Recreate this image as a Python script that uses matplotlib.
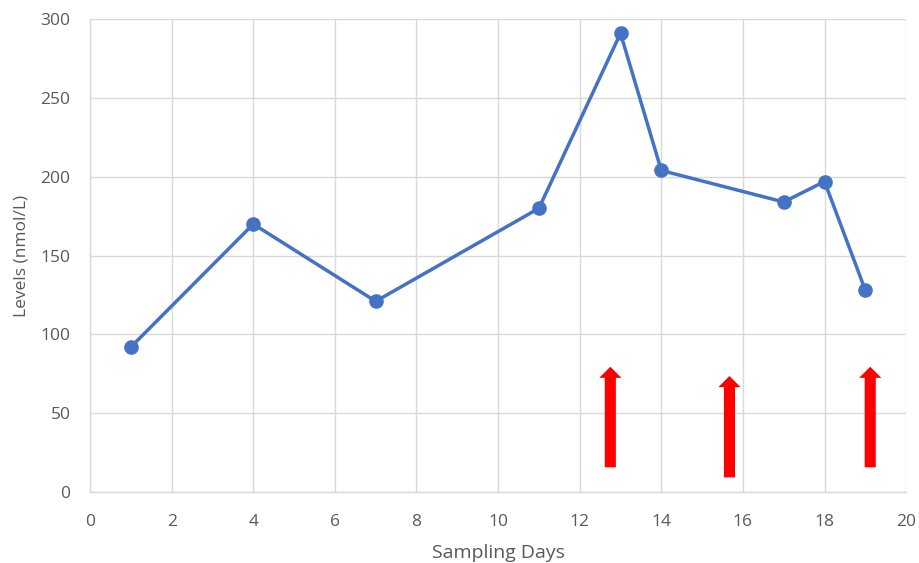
import matplotlib
matplotlib.use("Agg")
import matplotlib.pyplot as plt
from matplotlib.patches import FancyArrowPatch

days = [1, 4, 7, 11, 13, 14, 17, 18, 19]
levels = [92, 170, 121, 180, 291, 204, 184, 197, 128]

arrow_x = [12.75, 15.67, 19.12]
arrow_base = [15.7, 9.3, 15.7]
arrow_tip = [79.5, 73.6, 79.5]

xticks = list(range(0, 21, 2))
yticks = list(range(0, 301, 50))

plt.rcParams['font.family'] = ['Open Sans', 'DejaVu Sans']

fig = plt.figure(figsize=(9.19, 5.63), dpi=100)
ax = fig.add_axes([0.098, 0.126, 0.888, 0.840])

ax.plot(days, levels, color='#4472C4', linewidth=2.5, marker='o',
        markersize=9.5, zorder=3, clip_on=False)

for x, b, t in zip(arrow_x, arrow_base, arrow_tip):
    arr = FancyArrowPatch((x, b), (x, t),
                          arrowstyle="simple,head_length=8,head_width=16,tail_width=8",
                          mutation_scale=1, color='#FF0000', shrinkA=0, shrinkB=0,
                          zorder=4, linewidth=0)
    ax.add_patch(arr)

ax.set_xlim(0, 20)
ax.set_ylim(0, 300)
ax.set_xticks(xticks)
ax.set_yticks(yticks)
ax.grid(True, color='#D9D9D9', linewidth=1.0)
ax.set_axisbelow(True)
for s in ['top', 'right']:
    ax.spines[s].set_visible(False)
for s in ['left', 'bottom']:
    ax.spines[s].set_color('#D9D9D9')
    ax.spines[s].set_linewidth(1.0)
ax.tick_params(axis='both', length=0, labelsize=12.5, colors='#595959')
ax.tick_params(axis='x', pad=16)
ax.tick_params(axis='y', pad=14)
ax.set_xlabel('Sampling Days', fontsize=14, color='#595959', labelpad=10)
ax.set_ylabel('Levels (nmol/L)', fontsize=12.5, color='#595959', labelpad=8)

fig.savefig('out.png', dpi=100)
